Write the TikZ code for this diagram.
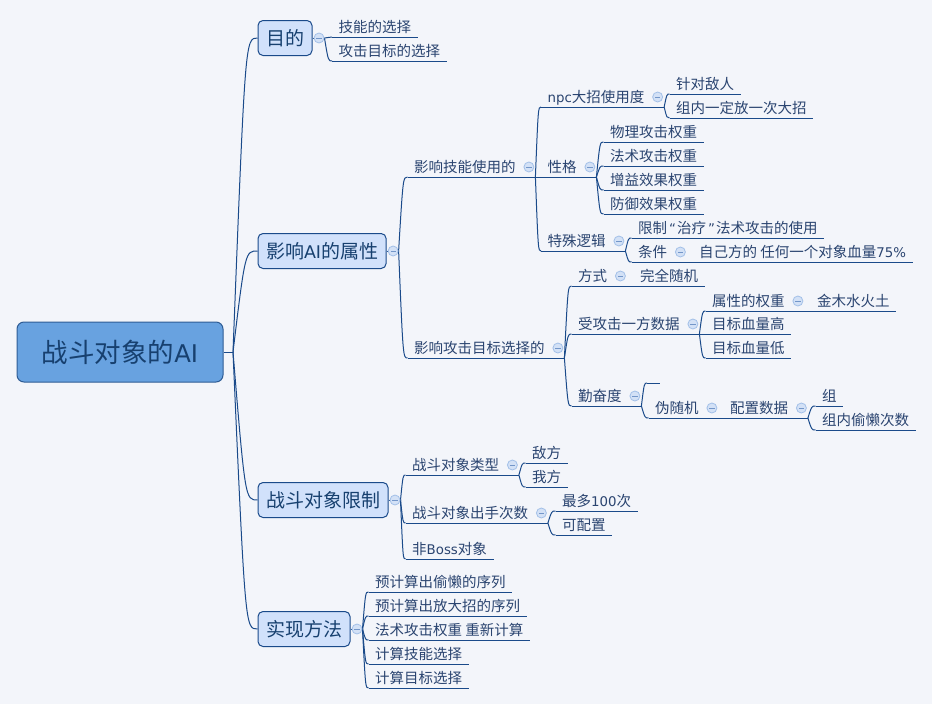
\documentclass[tikz,border=0pt]{standalone}
\usepackage{fontspec}
\setmainfont{Noto Sans CJK SC}
\newfontfamily\latf[Scale=0.92]{DejaVu Sans}
\usetikzlibrary{calc}
\definecolor{bgcol}{HTML}{F3F5FA}
\definecolor{linecol}{HTML}{1A4A8A}
\definecolor{textcol}{HTML}{2A4470}
\definecolor{boxfill}{HTML}{D1E1FB}
\definecolor{rootfill}{HTML}{68A2E0}
\definecolor{rootedge}{HTML}{2E5C95}
\definecolor{rootcol}{HTML}{17406F}
\definecolor{foldfill}{HTML}{D3E1F6}
\definecolor{foldedge}{HTML}{A3C0E8}
\definecolor{foldminus}{HTML}{7396C9}

\begin{document}
\begin{tikzpicture}[x=1pt, y=-1pt,
  link/.style={draw=linecol, line width=1pt},
  branch/.style={to path={let \p1=(\tikztostart), \p2=(\tikztotarget) in .. controls ({(\x1+\x2)/2},\y2) .. (\tikztotarget)}},
  rootbox/.style={draw=rootedge, fill=rootfill, line width=1pt, rounded corners=7pt, minimum width=206pt, minimum height=60pt, text=rootcol, font=\fontsize{26.5}{30}\selectfont},
  mainbox/.style={anchor=west, draw=linecol, fill=boxfill, line width=1pt, rounded corners=5pt, minimum height=35pt, inner xsep=8pt, text=rootcol, font=\fontsize{19}{22}\selectfont},
  topic/.style={anchor=south west, inner xsep=6.5pt, inner ysep=0pt, text height=10pt, text depth=4.5pt, text=textcol, font=\fontsize{14.5}{17}\selectfont},
  leaf/.style={topic, append after command={(\tikzlastnode.south west) edge[link] (\tikzlastnode.south east)}},
  fold/.style={circle, draw=foldedge, fill=foldfill, line width=0.8pt, minimum size=10pt, inner sep=0pt, path picture={\draw[foldminus, line width=0.8pt] ([xshift=-2.6pt]path picture bounding box.center) -- ([xshift=2.6pt]path picture bounding box.center);}}
]
\fill[bgcol] (0,0) rectangle (932,704);
\useasboundingbox (0,0) rectangle (932,704);

\node[rootbox] (root) at (120,352) {战斗对象的{\latf AI}};
\node[mainbox] (mudi) at (257.5,38) {目的};
\node[mainbox] (shuxing) at (257.5,251) {影响{\latf AI}的属性};
\node[mainbox] (xianzhi) at (257.5,500) {战斗对象限制};
\node[mainbox] (shixian) at (257.5,629) {实现方法};
\node[leaf] (jn) at (332,37) {技能的选择};
\node[leaf] (gm) at (332,61) {攻击目标的选择};
\node[topic] (jineng) at (407.5,177) {影响技能使用的};
\node[topic] (gongji) at (407.5,358) {影响攻击目标选择的};
\node[topic] (npc) at (541,107) {{\latf npc}大招使用度};
\node[leaf] (zhendui) at (669.5,94) {针对敌人};
\node[leaf] (zunei) at (669.5,118) {组内一定放一次大招};
\node[topic] (xingge) at (541,177) {性格};
\node[leaf] (wuli) at (603.5,142) {物理攻击权重};
\node[leaf] (fashu) at (603.5,166) {法术攻击权重};
\node[leaf] (zengyi) at (603.5,190) {增益效果权重};
\node[leaf] (fangyu) at (603.5,214) {防御效果权重};
\node[topic] (teshu) at (541,251) {特殊逻辑};
\node[leaf] (xzzl) at (631.5,238) {限制\hspace{2pt}{\latf “}\hspace{1pt}治疗\hspace{2pt}{\latf ”}\hspace{1pt}法术攻击的使用};
\node[topic] (tiaojian) at (631.5,262) {条件};
\node[leaf] (ziji) at (692.5,262) {自己方的 任何一个对象血量{\latf 75\%}};
\node[topic] (fangshi) at (571.5,286) {方式};
\node[leaf] (suiji) at (633.5,286) {完全随机};
\node[topic] (shouji) at (571.5,334) {受攻击一方数据};
\node[topic] (sxqz) at (705.5,311) {属性的权重};
\node[leaf] (jinmu) at (810.5,311) {金木水火土};
\node[leaf] (gao) at (705.5,334) {目标血量高};
\node[leaf] (di) at (705.5,358) {目标血量低};
\node[topic] (qinfen) at (571.5,406) {勤奋度};
\node[leaf, minimum width=12pt] (kong) at (647,383) {};
\node[topic] (weisuiji) at (648.5,418) {伪随机};
\node[topic] (peizhi) at (723.5,418) {配置数据};
\node[leaf] (zu) at (815.5,406) {组};
\node[leaf] (toulan) at (815.5,430) {组内偷懒次数};
\node[topic] (leixing) at (405.5,475) {战斗对象类型};
\node[leaf] (difang) at (525.5,463) {敌方};
\node[leaf] (wofang) at (525.5,487) {我方};
\node[topic] (cishu) at (405.5,523) {战斗对象出手次数};
\node[leaf] (zuiduo) at (555.5,511) {最多{\latf 100}次};
\node[leaf] (kepeizhi) at (555.5,535) {可配置};
\node[leaf] (feiboss) at (405.5,559) {非{\latf Boss}对象};
\node[leaf] (yu1) at (368.5,592) {预计算出偷懒的序列};
\node[leaf] (yu2) at (368.5,616) {预计算出放大招的序列};
\node[leaf] (chong) at (368.5,640) {法术攻击权重 重新计算};
\node[leaf] (jsjn) at (368.5,664) {计算技能选择};
\node[leaf] (jsmb) at (368.5,688) {计算目标选择};

\coordinate (root-o) at (233,352);
\foreach \n in {mudi,shuxing,xianzhi,shixian}
  \coordinate (\n-o) at ([xshift=12pt]\n.east);
\foreach \n in {jineng,gongji,npc,xingge,teshu,tiaojian,fangshi,shouji,sxqz,qinfen,weisuiji,peizhi,leixing,cishu} {
  \coordinate (\n-o) at ([xshift=13pt]\n.south east);
  \draw[link] (\n.south west) -- (\n-o);
}

\draw[link] (root.east) -- (root-o);
\foreach \b in {mudi,shuxing,xianzhi,shixian} {
  \draw[link] (root-o) to[branch] (\b.west);
  \draw[link] (\b.east) -- (\b-o);
}
\foreach \a/\b in {mudi/jn, mudi/gm, shuxing/jineng, shuxing/gongji, jineng/npc, jineng/xingge, jineng/teshu, npc/zhendui, npc/zunei, xingge/wuli, xingge/fashu, xingge/zengyi, xingge/fangyu, teshu/xzzl, teshu/tiaojian, tiaojian/ziji, gongji/fangshi, gongji/shouji, gongji/qinfen, fangshi/suiji, shouji/sxqz, shouji/gao, shouji/di, sxqz/jinmu, qinfen/kong, qinfen/weisuiji, weisuiji/peizhi, peizhi/zu, peizhi/toulan, xianzhi/leixing, xianzhi/cishu, xianzhi/feiboss, leixing/difang, leixing/wofang, cishu/zuiduo, cishu/kepeizhi, shixian/yu1, shixian/yu2, shixian/chong, shixian/jsjn, shixian/jsmb}
  \draw[link] (\a-o) to[branch] (\b.south west);

\foreach \n in {mudi,shuxing,xianzhi,shixian}
  \node[fold] (\n-f) at ([xshift=6.5pt]\n.east) {};
\foreach \n in {jineng,gongji,npc,xingge,teshu,tiaojian,fangshi,shouji,sxqz,qinfen,weisuiji,peizhi,leixing,cishu}
  \node[fold] (\n-f) at ([xshift=6.5pt,yshift=10pt]\n.south east) {};

\end{tikzpicture}
\end{document}
